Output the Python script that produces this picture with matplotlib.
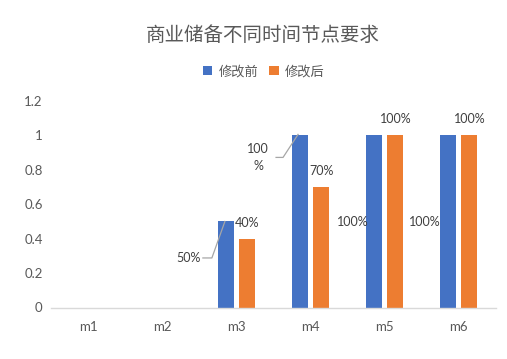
import matplotlib
matplotlib.use("Agg")
import matplotlib.pyplot as plt
import numpy as np

plt.rcParams['font.family'] = ['Lato', 'Noto Sans CJK SC', 'DejaVu Sans']

categories = ["m1", "m2", "m3", "m4", "m5", "m6"]
before = [0, 0, 0.5, 1, 1, 1]
after = [0, 0, 0.4, 0.7, 1, 1]
series_names = ["修改前", "修改后"]
yticks = [0, 0.2, 0.4, 0.6, 0.8, 1, 1.2]
ytick_labels = ["0", "0.2", "0.4", "0.6", "0.8", "1", "1.2"]

BLUE = "#4472C4"
ORANGE = "#ED7D31"
TXT = "#595959"
LBL = "#404040"
LEAD = "#A6A6A6"

fig = plt.figure(figsize=(5.07, 3.59), dpi=100)
ax = fig.add_axes([51 / 507, (359 - 307.5) / 359, 445 / 507, 206.5 / 359])

x = np.arange(len(categories))
w = 0.216
off = 0.142
b1 = ax.bar(x - off, before, w, color=BLUE, label=series_names[0], zorder=2)
b2 = ax.bar(x + off, after, w, color=ORANGE, label=series_names[1], zorder=2)

ax.set_xlim(-0.5, len(categories) - 0.5)
ax.set_ylim(0, 1.2)
ax.set_yticks(yticks)
ax.set_yticklabels(ytick_labels)
ax.set_xticks(x)
ax.set_xticklabels(categories)
ax.tick_params(axis='both', length=0, labelsize=9.5, labelcolor=TXT)
ax.tick_params(axis='y', pad=6)
ax.tick_params(axis='x', pad=10)
for s in ("top", "right", "left"):
    ax.spines[s].set_visible(False)
ax.spines["bottom"].set_color("#D9D9D9")
ax.spines["bottom"].set_linewidth(1)


def pct(v):
    return f"{int(round(v * 100))}%"


fs = 9
# labels of the first series: pixel offset from bar top, text, leader line
lab_before = {
    2: ((-37, -36.5), pct(before[2]), True),
    3: ((-42, -22), "100\n%", True),
    4: ((-21, -87), pct(before[4]), False),
    5: ((-24, -87), pct(before[5]), False),
}
for i, (dxy, txt, lead) in lab_before.items():
    xb = x[i] - off
    yb = before[i]
    ax.annotate(txt, xy=(xb, yb), xytext=dxy, textcoords='offset pixels',
                ha='center', va='center', fontsize=fs, color=LBL,
                linespacing=1.5, zorder=3)
    if lead:
        # leader: short horizontal stub then diagonal to the bar top
        tx, ty = ax.transData.transform((xb, yb))
        if i == 2:
            p0 = (tx - 23, ty - 36.5)
            p1 = (tx - 14, ty - 36.5)
            p2 = (tx - 1, ty)
        else:
            p0 = (tx - 24, ty - 22)
            p1 = (tx - 17, ty - 22)
            p2 = (tx - 2, ty + 1)
        inv = ax.transData.inverted()
        pts = inv.transform([p0, p1, p2])
        ax.plot(pts[:, 0], pts[:, 1], color=LEAD, lw=0.9, zorder=3,
                clip_on=False)

# labels of the second series sit just above the bars
for i in range(2, len(categories)):
    xb = x[i] + off
    yb = after[i]
    ax.annotate(pct(yb), xy=(xb, yb), xytext=(0, 16), textcoords='offset pixels',
                ha='center', va='center', fontsize=fs, color=LBL, zorder=3)

fig.text(263 / 507, 1 - 35 / 359, "商业储备不同时间节点要求", ha='center', va='center',
         fontsize=14, color=TXT)

leg = fig.legend(handles=[b1, b2], labels=series_names, loc='center',
                 bbox_to_anchor=(264 / 507, 1 - 71 / 359), ncol=2, frameon=False,
                 fontsize=9.5, handlelength=0.7, handleheight=0.7,
                 handletextpad=0.5, columnspacing=0.8)
for t in leg.get_texts():
    t.set_color(TXT)

fig.savefig("out.png", dpi=100)
